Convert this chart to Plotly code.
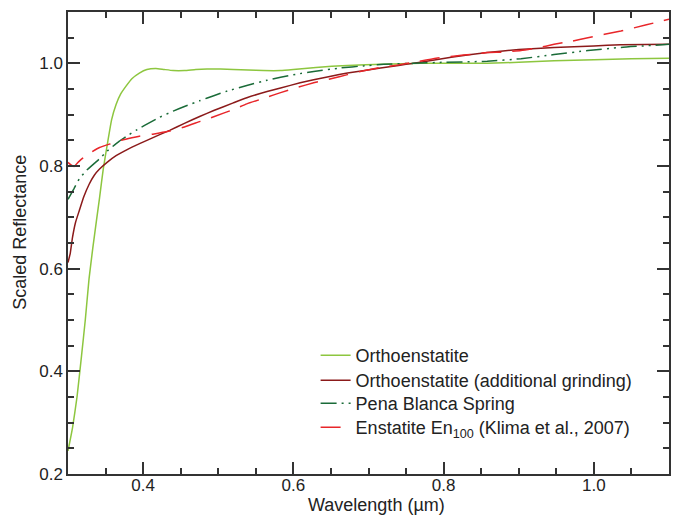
import plotly.graph_objects as go

# Orthoenstatite
w_ortho = [0.300,0.306,0.312,0.318,0.323,0.328,0.333,0.338,0.342,0.347,0.353,0.358,0.364,0.370,0.377,0.385,0.395,0.405,0.417,0.428,0.440,0.455,0.470,0.485,0.503,0.520,0.540,0.560,0.583,0.600,0.630,0.672,0.720,0.769,0.810,0.858,0.900,0.947,1.000,1.050,1.100]
r_ortho = [0.245,0.290,0.350,0.430,0.500,0.580,0.640,0.695,0.738,0.795,0.848,0.890,0.920,0.940,0.955,0.970,0.981,0.988,0.990,0.988,0.986,0.986,0.988,0.989,0.989,0.988,0.987,0.986,0.986,0.988,0.992,0.996,0.998,1.000,1.000,1.000,1.002,1.005,1.007,1.009,1.010]

# Orthoenstatite (additional grinding)
w_grind = [0.300,0.303,0.306,0.310,0.315,0.321,0.328,0.335,0.342,0.352,0.364,0.380,0.396,0.408,0.436,0.455,0.476,0.494,0.520,0.538,0.565,0.583,0.609,0.627,0.650,0.672,0.695,0.716,0.740,0.760,0.769,0.810,0.858,0.900,0.947,1.000,1.036,1.100]
r_grind = [0.612,0.630,0.661,0.690,0.713,0.740,0.764,0.782,0.794,0.807,0.820,0.833,0.844,0.852,0.870,0.883,0.897,0.908,0.923,0.933,0.945,0.952,0.962,0.968,0.975,0.981,0.986,0.991,0.996,1.000,1.002,1.012,1.021,1.027,1.031,1.034,1.036,1.037]

# Pena Blanca Spring
w_pena = [0.300,0.308,0.315,0.325,0.335,0.342,0.352,0.368,0.378,0.391,0.413,0.422,0.440,0.455,0.475,0.494,0.512,0.538,0.565,0.583,0.605,0.627,0.663,0.693,0.720,0.760,0.800,0.858,0.903,0.947,0.992,1.036,1.100]
r_pena = [0.735,0.756,0.775,0.792,0.805,0.814,0.829,0.848,0.858,0.870,0.888,0.895,0.907,0.916,0.927,0.937,0.946,0.957,0.967,0.973,0.979,0.984,0.991,0.995,0.998,1.000,1.002,1.004,1.009,1.017,1.025,1.031,1.037]

# Enstatite En100 (Klima et al., 2007)
w_klima = [0.300,0.304,0.308,0.314,0.320,0.330,0.342,0.356,0.371,0.385,0.395,0.413,0.435,0.455,0.476,0.494,0.520,0.538,0.565,0.583,0.605,0.627,0.650,0.672,0.695,0.716,0.740,0.760,0.790,0.813,0.840,0.858,0.880,0.903,0.925,0.947,0.970,0.992,1.036,1.070,1.100]
r_klima = [0.807,0.802,0.799,0.808,0.816,0.826,0.836,0.843,0.850,0.855,0.858,0.862,0.868,0.876,0.887,0.896,0.910,0.921,0.934,0.943,0.953,0.962,0.970,0.978,0.986,0.992,0.997,1.002,1.010,1.014,1.018,1.021,1.022,1.025,1.030,1.037,1.043,1.050,1.063,1.075,1.086]

x_ticks = [0.4, 0.6, 0.8, 1.0]
y_ticks = [0.2, 0.4, 0.6, 0.8, 1.0]
x_title = "Wavelength (µm)"
y_title = "Scaled Reflectance"

fig = go.Figure()
fig.add_trace(go.Scatter(x=w_ortho, y=r_ortho, mode="lines", name="Orthoenstatite", legend="legend", showlegend=True,
                         line=dict(color="#8dc63f", width=1.5, shape="spline", smoothing=0.4)))
fig.add_trace(go.Scatter(x=w_grind, y=r_grind, mode="lines", name="Orthoenstatite (additional grinding)", legend="legend2", showlegend=True,
                         line=dict(color="#8b1a1a", width=1.5, shape="spline", smoothing=0.4)))
fig.add_trace(go.Scatter(x=w_pena, y=r_pena, mode="lines", name="Pena Blanca Spring", legend="legend3", showlegend=True,
                         line=dict(color="#1a6b38", width=1.5, shape="spline", smoothing=0.4,
                                   dash="16px,5px,2px,5px,2px,5px")))
fig.add_trace(go.Scatter(x=w_klima, y=r_klima, mode="lines", name="Enstatite En<sub>100</sub> (Klima et al., 2007)", legend="legend4", showlegend=True,
                         line=dict(color="#e8262a", width=1.5, shape="spline", smoothing=0.4,
                                   dash="20px,11px")))

axis_common = dict(showline=True, linecolor="#333333", linewidth=1.5, mirror="ticks",
                   ticks="inside", ticklen=12, tickwidth=1.5, tickcolor="#333333",
                   showgrid=False, zeroline=False, tickformat=".1f", automargin=False,
                   tickfont=dict(size=17),
                   minor=dict(ticks="inside", ticklen=6, tickwidth=1.5, tickcolor="#333333", dtick=0.05, showgrid=False))

fig.update_xaxes(range=[0.3, 1.1], tickvals=x_ticks, ticklabelstandoff=-5, **axis_common)
fig.update_yaxes(range=[0.2, 1.1], tickvals=y_ticks, **axis_common)

fig.add_annotation(text=x_title, xref="paper", yref="paper", x=0.513, y=0, xanchor="center",
                   yanchor="middle", yshift=-31, showarrow=False, font=dict(size=18))
fig.add_annotation(text=y_title, xref="paper", yref="paper", x=0, y=0.522, xanchor="center",
                   yanchor="middle", xshift=-48, textangle=-90, showarrow=False, font=dict(size=18))

leg = dict(x=0.412, xanchor="left", yanchor="top", bgcolor="rgba(0,0,0,0)", font=dict(size=18))
fig.update_layout(
    width=679, height=515,
    showlegend=True,
    margin=dict(l=68, r=10, t=12, b=41),
    paper_bgcolor="white", plot_bgcolor="white",
    font=dict(family="Liberation Sans, Arial, sans-serif", size=18, color="#222222"),
    legend=dict(y=0.2965, **leg),
    legend2=dict(y=0.2424, **leg),
    legend3=dict(y=0.1926, **leg),
    legend4=dict(y=0.1407, **leg),
)

fig.write_html("out.html")
